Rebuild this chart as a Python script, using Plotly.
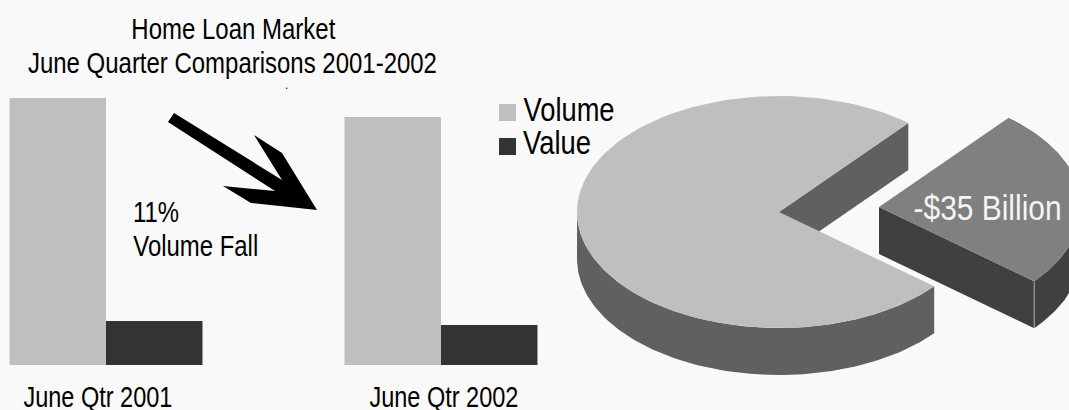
import json
import math
import plotly.graph_objects as go

# ---- data ----
categories = ["June Qtr 2001", "June Qtr 2002"]
volume_index = [100, 92.9]
value_index = [16.5, 15]
pie_labels = ["Remaining market", "Fall"]
pie_values = [105, 35]
pie_slice_label = "-$35 Billion"
title_lines = ["Home Loan Market", "June Quarter Comparisons 2001-2002"]
note_lines = ["11%", "Volume Fall"]
legend_names = ["Volume", "Value"]

# ---- style ----
W, H = 1069, 410
BG = "#f9f9f9"
FONT = "Liberation Sans"
VOL, VAL = "#bfbfbf", "#333333"
TOP_MAIN, SIDE_MAIN = "#bfbfbf", "#606060"
TOP_CUT, SIDE_CUT = "#808080", "#404040"

# pie projection, in pixel space
CX, CY, RX, RY, DEPTH = 779, 212, 202, 116, 47
EXPLODE = (100, -5)
START_DEG = 50.2

fig = go.Figure()

# ---- bars ----
fig.add_bar(x=categories, y=volume_index, name=legend_names[0], marker_color=VOL,
            marker_line_width=0, xaxis="x", yaxis="y", showlegend=False)
fig.add_bar(x=categories, y=value_index, name=legend_names[1], marker_color=VAL,
            marker_line_width=0, xaxis="x", yaxis="y", showlegend=False)


def pt(deg, dx=0, dy=0, depth=0):
    a = math.radians(deg)
    return CX + dx + RX * math.cos(a), CY + dy - RY * math.sin(a) + depth


def arc(a0, a1, dx=0, dy=0, depth=0, n=120):
    return [pt(a0 + (a1 - a0) * i / n, dx, dy, depth) for i in range(n + 1)]


def poly(points, color):
    fig.add_scatter(x=[p[0] for p in points] + [points[0][0]],
                    y=[p[1] for p in points] + [points[0][1]],
                    mode="lines", fill="toself", fillcolor=color,
                    line=dict(width=0, color=color), xaxis="x2", yaxis="y2",
                    showlegend=False, hoverinfo="skip")


# slice angles derive from the pie values (slice runs clockwise from START_DEG)
sweep = 360 * pie_values[1] / sum(pie_values)
a_up = START_DEG
a_low = START_DEG - sweep

# main body: angles from a_up counter-clockwise round to a_low + 360
a_end = a_low + 360
apex = (CX, CY)
# inner cut face, then outer wall, then top
up = pt(a_up)
poly([apex, up, (up[0], up[1] + DEPTH), (apex[0], apex[1] + DEPTH)], SIDE_MAIN)
wall = arc(180, a_end)
poly(wall + arc(a_end, 180, depth=DEPTH), SIDE_MAIN)
poly([apex] + arc(a_up, a_end), TOP_MAIN)

# exploded slice
dx, dy = EXPLODE
apex2 = (CX + dx, CY + dy)
low2 = pt(a_low, dx, dy)
poly([apex2, low2, (low2[0], low2[1] + DEPTH), (apex2[0], apex2[1] + DEPTH)], SIDE_CUT)
poly(arc(a_low, a_up, dx, dy) + arc(a_up, a_low, dx, dy, depth=DEPTH), SIDE_CUT)
poly([apex2] + arc(a_low, a_up, dx, dy), TOP_CUT)
fig.add_scatter(x=[low2[0], low2[0]], y=[low2[1], low2[1] + DEPTH], mode="lines",
                line=dict(width=1, color="#a8a8a8"), xaxis="x2", yaxis="y2",
                showlegend=False, hoverinfo="skip")

# ---- arrow outline ----
arrow = [(168, 122), (174, 113), (282, 180), (254, 135), (282, 153), (317, 210),
         (251, 203), (223, 186), (275, 191)]
poly(arrow, "#000000")

# the reference type is condensed: each text is fitted to its measured width
fit_widths = {}


def label(x, y, text, size, width=None, color="#000000"):
    fig.add_annotation(x=x, y=y, xref="x2", yref="y2", text=text, showarrow=False,
                       xanchor="center", yanchor="middle", align="center",
                       font=dict(family=FONT, size=size, color=color))
    if width:
        fit_widths[text] = width


label(233, 29, title_lines[0], 29, 204)
label(232.5, 63, title_lines[1], 29, 409)
label(286, 85, ".", 12)
label(156, 212, note_lines[0], 29, 46)
label(195.5, 246, note_lines[1], 29, 125)
label(97.5, 397, categories[0], 29, 149)
label(443.5, 397, categories[1], 29, 149)
label(568.5, 109, legend_names[0], 33, 91)
label(557, 142, legend_names[1], 33, 68)
label(987, 207, pie_slice_label, 35, 148, color="#f4f4f4")

shapes = [
    dict(type="rect", xref="x2", yref="y2", x0=499, x1=516, y0=104, y1=121,
         fillcolor=VOL, line_width=0),
    dict(type="rect", xref="x2", yref="y2", x0=499, x1=516, y0=138, y1=155,
         fillcolor=VAL, line_width=0),
]

fig.update_layout(
    width=W, height=H, margin=dict(l=0, r=0, t=0, b=0, pad=0),
    paper_bgcolor=BG, plot_bgcolor="rgba(0,0,0,0)", barmode="group",
    bargap=0.424, bargroupgap=0, showlegend=False, shapes=shapes,
    xaxis=dict(domain=[5.5 / W, 541.5 / W], range=[-0.3, 1.3], type="category",
               visible=False),
    yaxis=dict(domain=[(H - 365) / H, (H - 98) / H], range=[0, 100], visible=False),
    xaxis2=dict(domain=[0, 1], range=[0, W], visible=False, anchor="y2"),
    yaxis2=dict(domain=[0, 1], range=[H, 0], visible=False, anchor="x2"),
)
post = """
document.documentElement.style.margin='0';
document.body.style.margin='0';
document.body.style.overflow='hidden';
document.body.style.background='%s';
var fit = %s;
document.querySelectorAll('.annotation-text').forEach(function(t){
  var w = fit[t.textContent];
  if (w) { t.setAttribute('textLength', w); t.setAttribute('lengthAdjust', 'spacingAndGlyphs'); }
});
""" % (BG, json.dumps(fit_widths))
fig.write_html("out.html", config=dict(displayModeBar=False), post_script=post)
